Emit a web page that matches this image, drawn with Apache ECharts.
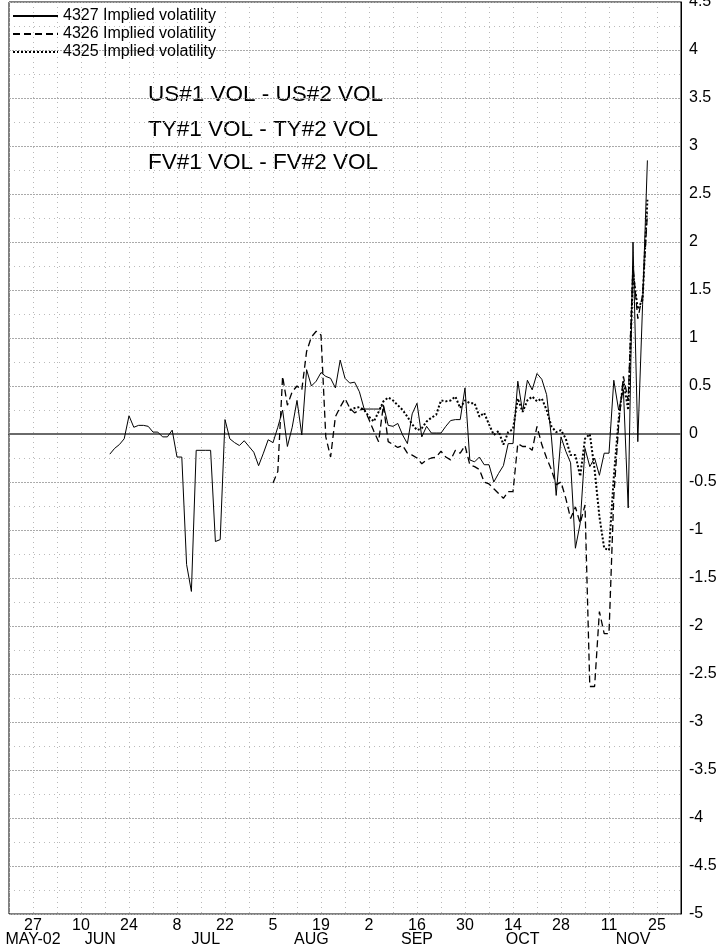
<!DOCTYPE html>
<html><head><meta charset="utf-8">
<script src="https://cdn.jsdelivr.net/npm/echarts@6/dist/echarts.min.js"></script>
<style>html,body{margin:0;padding:0;background:#fff}#c{width:726px;height:947px}</style>
</head><body><div id="c"></div>
<script>
// ---- data ----
const firstDay = '2002-05-20';
const lastDay = '2002-12-02';
const dayLabelStart = '2002-05-27'; // day-number labels every two weeks from here
const monthLabels = [
  ['2002-05-27', 'MAY-02'], ['2002-06-14', 'JUN'], ['2002-07-16', 'JUL'],
  ['2002-08-15', 'AUG'], ['2002-09-16', 'SEP'], ['2002-10-16', 'OCT'], ['2002-11-18', 'NOV']
];
const seriesNames = ['4327 Implied volatility', '4326 Implied volatility', '4325 Implied volatility'];
const annotationLines = ['US#1 VOL - US#2 VOL', 'TY#1 VOL - TY#2 VOL', 'FV#1 VOL - FV#2 VOL'];

const s4327Start = '2002-06-18';
const s4327 = [-0.21,-0.15,-0.11,-0.05,0.19,0.07,0.09,0.09,0.08,0.02,
  0.02,-0.03,-0.03,0.04,-0.24,-0.24,-1.36,-1.64,-0.17,-0.17,
  -0.17,-0.17,-1.12,-1.10,0.15,-0.05,-0.09,-0.12,-0.07,-0.13,
  -0.19,-0.33,-0.20,-0.06,-0.09,0.07,0.25,-0.13,0.07,0.35,
  -0.01,0.67,0.50,0.55,0.64,0.60,0.58,0.48,0.77,0.58,
  0.53,0.54,0.44,0.26,0.26,0.26,0.26,0.30,0.09,0.08,
  0.11,-0.01,-0.10,0.21,0.32,-0.03,0.08,0.01,0.01,0.01,
  0.08,0.14,0.15,0.15,0.48,-0.27,-0.29,-0.24,-0.32,-0.32,
  -0.50,-0.41,-0.33,-0.10,-0.10,0.55,0.23,0.56,0.46,0.63,
  0.57,0.41,-0.03,-0.64,-0.03,-0.18,-0.30,-1.19,-0.93,-0.15,
  -0.34,-0.25,-0.43,-0.20,-0.20,0.56,0.25,0.46,-0.77,2.00,
  -0.08,1.35,2.85];

const s4326Start = '2002-08-05';
const s4326 = [-0.51,-0.39,0.60,0.30,0.44,0.50,0.46,0.86,1.01,1.07,
  1.03,-0.03,-0.24,0.18,0.28,0.37,0.27,0.22,0.25,0.26,
  0.15,0.03,-0.08,0.30,-0.08,-0.11,-0.14,-0.12,-0.20,-0.22,
  -0.25,-0.31,-0.27,-0.25,-0.24,-0.18,-0.24,-0.27,-0.17,-0.20,
  -0.12,-0.32,-0.34,-0.37,-0.50,-0.52,-0.57,-0.62,-0.67,-0.60,
  -0.60,-0.10,-0.13,-0.13,-0.17,0.08,-0.11,-0.25,-0.37,-0.53,
  -0.50,-0.67,-0.88,-0.76,-0.93,-0.74,-2.63,-2.63,-1.85,-2.08,
  -2.08,-0.65,0.08,0.60,0.35,1.75,1.20,1.45,2.30];

const s4325Start = '2002-08-27';
const s4325 = [0.25,0.27,0.28,0.25,0.18,0.13,0.23,0.34,0.38,0.35,
  0.30,0.25,0.18,0.10,0.04,0.06,0.13,0.17,0.20,0.35,
  0.34,0.35,0.39,0.27,0.35,0.32,0.32,0.18,0.22,0.10,
  -0.01,0.03,-0.11,0.02,0.05,0.37,0.23,0.35,0.39,0.34,
  0.37,0.25,0.08,0.02,0.04,-0.05,-0.22,-0.22,-0.44,-0.05,
  0.00,-0.37,-0.86,-1.19,-1.21,-0.45,0.15,0.55,0.25,1.67,
  1.30,1.40,2.44];

// ---- build categories (weekdays) ----
function iso(d){ return d.toISOString().slice(0,10); }
const cats = [];
for (let d = new Date(firstDay + 'T00:00:00Z'); iso(d) <= lastDay; d.setUTCDate(d.getUTCDate()+1)) {
  const wd = d.getUTCDay();
  if (wd !== 0 && wd !== 6) cats.push(iso(d));
}
function place(start, vals){
  const out = new Array(cats.length).fill(null);
  const s = cats.indexOf(start);
  vals.forEach((v,k)=>{ out[s+k] = v; });
  return out;
}
const labelStartIdx = cats.indexOf(dayLabelStart);
const monthMap = {}; monthLabels.forEach(([d,l]) => monthMap[d] = l);
const FONT = "'Liberation Sans', Arial, Helvetica, sans-serif";

const chart = echarts.init(document.getElementById('c'), null, {renderer:'canvas'});
chart.setOption({
  animation: false,
  backgroundColor: '#fff',
  textStyle: { fontFamily: FONT, color: '#000' },
  grid: { left: 9, right: 45, top: 2, bottom: 33, show: true, borderColor: '#000', borderWidth: 1,
    backgroundColor: 'transparent', outerBoundsMode: 'none', containLabel: false },
  legend: {
    orient: 'vertical', left: 12, top: 8, padding: 0, itemWidth: 45, itemHeight: 16, itemGap: 2,
    itemStyle: { opacity: 0 },
    textStyle: { fontSize: 16, color: '#000', fontFamily: FONT },
    data: seriesNames
  },
  graphic: annotationLines.map((t, k) => ({
    type: 'text', left: 148, top: [83, 118, 151][k],
    style: { text: t, font: "22.5px " + FONT, fill: '#000' }
  })),
  xAxis: [{
    type: 'category', data: cats, boundaryGap: false, position: 'bottom',
    axisLine: { show: true, lineStyle: { color: '#000', width: 1 } },
    axisTick: { show: false },
    axisLabel: {
      interval: (i) => i >= labelStartIdx && (i - labelStartIdx) % 10 === 0,
      formatter: (v) => String(Number(v.slice(8,10))),
      fontSize: 16, color: '#000', margin: 4, fontFamily: FONT
    },
    splitLine: { show: true, interval: (i, v) => new Date(v + 'T00:00:00Z').getUTCDay() === 1,
      lineStyle: { color: '#b8b8b8', type: [1, 4], width: 1 } }
  }, {
    type: 'category', data: cats, boundaryGap: false, position: 'bottom', offset: 14,
    axisLine: { show: false }, axisTick: { show: false }, splitLine: { show: false },
    axisLabel: {
      interval: (i, v) => monthMap[v] !== undefined,
      formatter: (v) => monthMap[v] || '',
      fontSize: 16, color: '#000', margin: 4, fontFamily: FONT
    }
  }],
  yAxis: {
    type: 'value', position: 'right', min: -5, max: 4.5, interval: 0.5,
    axisLine: { show: true, lineStyle: { color: '#000', width: 1 } },
    axisTick: { show: false },
    axisLabel: { fontSize: 16, color: '#000', margin: 8, fontFamily: FONT },
    splitLine: { show: true, lineStyle: { color: '#aaaaaa', type: [2, 1], width: 1 } },
    minorTick: { show: false, splitNumber: 2 },
    minorSplitLine: { show: true, lineStyle: { color: '#bbbbbb', type: [1, 4], width: 1 } }
  },
  series: [{
    name: seriesNames[0], type: 'line', data: place(s4327Start, s4327), symbol: 'none',
    lineStyle: { color: '#000', width: 1, type: 'solid' }, itemStyle: { color: '#000' }, z: 4,
    markLine: { silent: true, symbol: ['none','none'], label: { show: false },
      lineStyle: { color: '#6a6a6a', width: 2, type: 'solid' }, data: [{ yAxis: 0 }], z: 1 }
  }, {
    name: seriesNames[1], type: 'line', data: place(s4326Start, s4326), symbol: 'none',
    lineStyle: { color: '#000', width: 1.3, type: [7, 4] }, itemStyle: { color: '#000' }, z: 3
  }, {
    name: seriesNames[2], type: 'line', data: place(s4325Start, s4325), symbol: 'none',
    lineStyle: { color: '#000', width: 2, type: [2, 2] }, itemStyle: { color: '#000' }, z: 2
  }]
});
</script></body></html>
